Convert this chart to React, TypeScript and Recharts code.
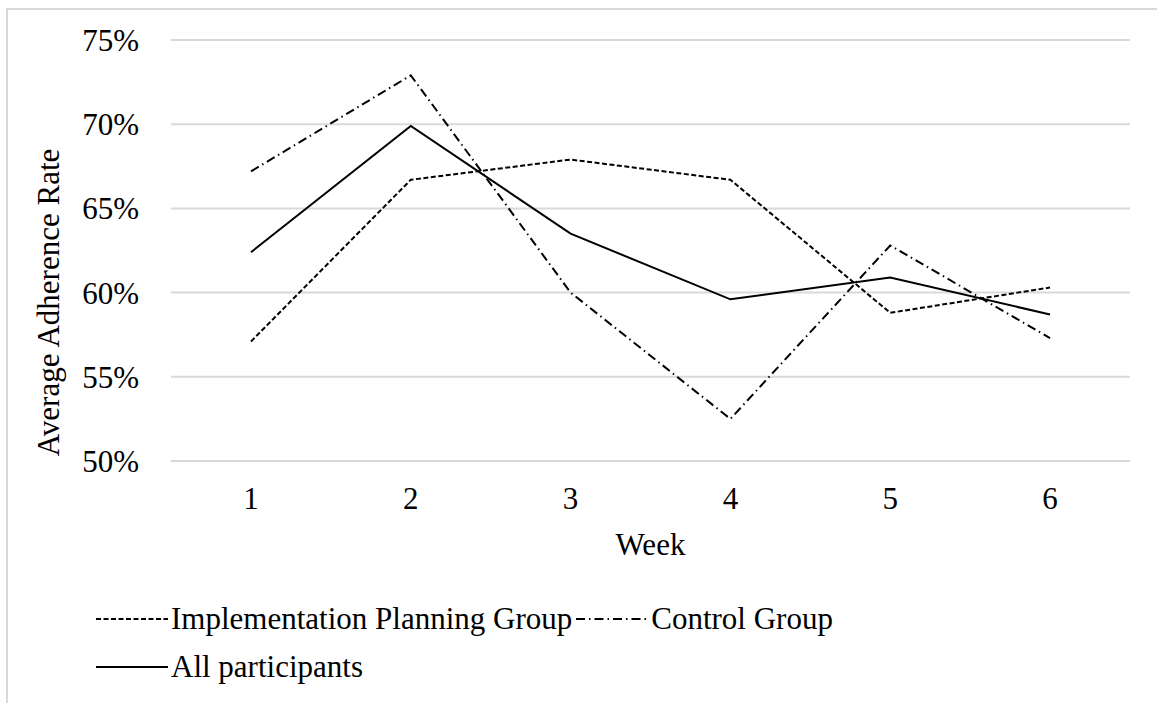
import React from 'react';
import { LineChart, Line, XAxis, YAxis, CartesianGrid, Legend } from 'recharts';

const weeks = ['1', '2', '3', '4', '5', '6'];
const implementationGroup = [57.1, 66.7, 67.9, 66.7, 58.8, 60.3];
const controlGroup = [67.2, 72.9, 60.0, 52.5, 62.8, 57.3];
const allParticipants = [62.4, 69.9, 63.5, 59.6, 60.9, 58.7];
const yTicks = [50, 55, 60, 65, 70, 75];

const data = weeks.map((w, i) => ({
  week: w,
  impl: implementationGroup[i],
  control: controlGroup[i],
  all: allParticipants[i],
}));

const FONT = '"Liberation Serif", "Times New Roman", serif';
const FS = 31;

const seriesStyle: Record<string, string | undefined> = {
  'Implementation Planning Group': '5 2.5',
  'Control Group': '9 4 1.5 4',
  'All participants': undefined,
};

const LegendItem = ({ name }: { name: string }) => (
  <span style={{ display: 'inline-flex', alignItems: 'center', marginRight: 4 }}>
    <svg width={74} height={10} style={{ marginRight: 1 }}>
      <line x1={0} x2={72} y1={5} y2={5} stroke="#000" strokeWidth={2} strokeDasharray={seriesStyle[name]} />
    </svg>
    <span>{name}</span>
  </span>
);

const renderLegend = (props: any) => {
  const payload = props.payload || [];
  const order = ['Implementation Planning Group', 'Control Group', 'All participants'];
  const items = order.filter((n) => payload.some((p: any) => p.value === n));
  return (
    <div
      style={{
        height: 120,
        fontFamily: FONT,
        fontSize: FS,
        color: '#000',
        paddingLeft: 88,
        paddingTop: 22,
        boxSizing: 'border-box',
        width: 900,
        lineHeight: '48px',
      }}
    >
      <div style={{ display: 'flex', height: 48 }}>
        {items.slice(0, 2).map((n) => (
          <LegendItem key={n} name={n} />
        ))}
      </div>
      <div style={{ display: 'flex', height: 48 }}>
        {items.slice(2).map((n) => (
          <LegendItem key={n} name={n} />
        ))}
      </div>
    </div>
  );
};

const YTitle = (props: any) => {
  const vb = props.viewBox || { x: 0, y: 0, width: 0, height: 0 };
  const cx = vb.x + 40;
  const cy = vb.y + vb.height / 2 + 52;
  return (
    <text
      x={cx}
      y={cy}
      transform={`rotate(-90, ${cx}, ${cy})`}
      textAnchor="middle"
      dominantBaseline="central"
      fontFamily={FONT}
      fontSize={FS}
      fill="#000"
    >
      Average Adherence Rate
    </text>
  );
};

export default function App() {
  return (
    <div
      style={{
        position: 'absolute',
        left: 6,
        top: 8,
        width: 1151,
        height: 695,
        borderTop: '2px solid #d9d9d9',
        borderLeft: '2px solid #d9d9d9',
        boxSizing: 'border-box',
        background: '#fff',
      }}
    >
      <LineChart
        width={1149}
        height={693}
        data={data}
        margin={{ top: 30, right: 27, left: 0, bottom: 10 }}
      >
        <CartesianGrid vertical={false} stroke="#d9d9d9" strokeWidth={2} />
        <XAxis
          dataKey="week"
          axisLine={false}
          tickLine={false}
          height={112}
          padding={{ left: 80, right: 80 }}
          tickMargin={20}
          tick={{ fontFamily: FONT, fontSize: FS, fill: '#000' }}
          label={{
            value: 'Week',
            position: 'insideTop',
            offset: 72,
            fontFamily: FONT,
            fontSize: FS,
            fill: '#000',
          }}
        />
        <YAxis
          domain={[50, 75]}
          ticks={yTicks}
          width={163}
          axisLine={false}
          tickLine={false}
          tickMargin={26}
          tickFormatter={(v: number) => `${v}%`}
          tick={{ fontFamily: FONT, fontSize: FS, fill: '#000' }}
          label={<YTitle />}
        />
        <Legend verticalAlign="bottom" align="left" content={renderLegend} />
        <Line
          name="Implementation Planning Group"
          dataKey="impl"
          stroke="#000"
          strokeWidth={2}
          strokeDasharray="5 2.5"
          dot={false}
          isAnimationActive={false}
        />
        <Line
          name="Control Group"
          dataKey="control"
          stroke="#000"
          strokeWidth={2}
          strokeDasharray="9 4 1.5 4"
          dot={false}
          isAnimationActive={false}
        />
        <Line
          name="All participants"
          dataKey="all"
          stroke="#000"
          strokeWidth={2}
          dot={false}
          isAnimationActive={false}
        />
      </LineChart>
    </div>
  );
}
